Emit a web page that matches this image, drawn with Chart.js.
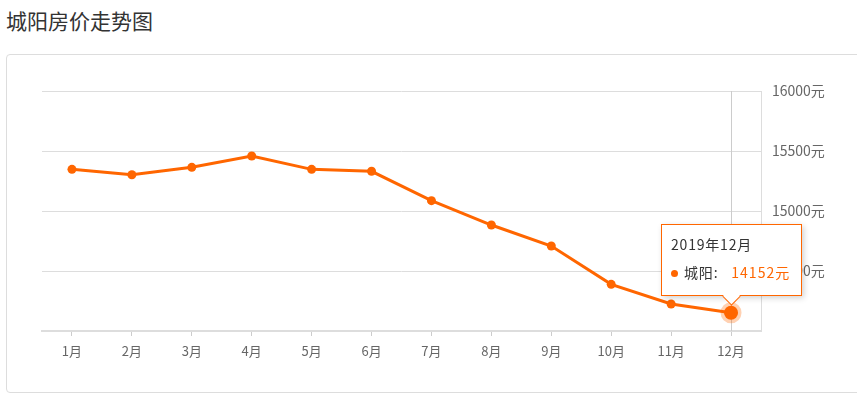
<!DOCTYPE html>
<html>
<head>
<meta charset="utf-8">
<script src="https://cdn.jsdelivr.net/npm/chart.js@4"></script>
<style>
  body { margin: 0; width: 857px; height: 398px; position: relative; overflow: hidden; background: #fff;
         font-family: "Noto Sans CJK SC", "Noto Sans", sans-serif; }
  .title { position: absolute; left: 6px; top: 5px; font-size: 21px; color: #333; line-height: 30px; }
  .card { position: absolute; left: 6px; top: 54px; width: 870px; height: 337px; border: 1px solid #ddd; border-radius: 4px; }
  #chart { position: absolute; left: 0; top: 0; }
  .tip { position: absolute; background: #fff; border: 1px solid #ff6600; width: 139px; height: 70px;
         box-shadow: 2px 2px 6px rgba(0,0,0,0.18); font-size: 14px; color: #333; display: none; letter-spacing: 0.8px; }
  .tip .t { position: absolute; left: 9px; top: 9px; line-height: 20px; }
  .tip .row { position: absolute; left: 9px; top: 37px; white-space: nowrap; line-height: 20px; }
  .tip .dot { display: inline-block; width: 7px; height: 7px; border-radius: 50%; background: #ff6600; margin-right: 6px; vertical-align: 1px; }
  .tip .v { color: #ff6600; margin-left: 13px; letter-spacing: 1px; }
  .tip .caret { position: absolute; left: 63px; bottom: -8px; width: 12px; height: 12px; background: #fff;
                border-right: 1px solid #ff6600; border-bottom: 1px solid #ff6600; transform: rotate(45deg); }
</style>
</head>
<body>
<div class="title">城阳房价走势图</div>
<div class="card"></div>
<canvas id="chart" width="857" height="398"></canvas>
<div class="tip" id="tip">
  <div class="t" id="tipTitle"></div>
  <div class="row"><span class="dot"></span><span id="tipName"></span><span class="v" id="tipVal"></span></div>
  <div class="caret"></div>
</div>
<script>
const months = ["1月", "2月", "3月", "4月", "5月", "6月", "7月", "8月", "9月", "10月", "11月", "12月"];
const prices = [15347, 15302, 15364, 15458, 15347, 15331, 15086, 14883, 14708, 14389, 14225, 14152];
const yTicks = [14000, 14500, 15000, 15500, 16000];
const seriesName = "城阳";
const year = "2019";
const orange = "#ff6600";

// vertical guide line under the hovered point
const crosshair = {
  id: "crosshair",
  beforeDatasetsDraw(chart) {
    const active = chart.getActiveElements();
    if (!active.length) return;
    const x = chart.scales.x.getPixelForValue(active[0].index);
    const { top, bottom } = chart.chartArea;
    const ctx = chart.ctx;
    ctx.save();
    ctx.strokeStyle = "#ccc";
    ctx.lineWidth = 1;
    ctx.beginPath();
    ctx.moveTo(Math.round(x) + 0.5, top);
    ctx.lineTo(Math.round(x) + 0.5, bottom);
    ctx.stroke();
    ctx.restore();
  }
};

function externalTip(context) {
  const tooltip = context.tooltip;
  const el = document.getElementById("tip");
  if (tooltip.opacity === 0) { el.style.display = "none"; return; }
  const i = tooltip.dataPoints[0].dataIndex;
  document.getElementById("tipTitle").textContent = year + "年" + months[i];
  document.getElementById("tipName").textContent = seriesName + ":";
  document.getElementById("tipVal").textContent = prices[i] + "元";
  el.style.display = "block";
  el.style.left = (tooltip.caretX - 70) + "px";
  el.style.top = (tooltip.caretY - 89) + "px";
}

const chart = new Chart(document.getElementById("chart"), {
  type: "line",
  data: {
    labels: months,
    datasets: [{
      label: seriesName,
      data: prices,
      borderColor: orange,
      backgroundColor: orange,
      borderWidth: 3,
      pointRadius: 4.5,
      pointBorderWidth: 0,
      pointBackgroundColor: orange,
      pointHoverRadius: 7,
      pointHoverBorderWidth: 7,
      pointHoverBackgroundColor: orange,
      pointHoverBorderColor: "rgba(255,102,0,0.3)",
      tension: 0
    }]
  },
  options: {
    responsive: false,
    animation: false,
    events: [],
    layout: { padding: { left: 42, top: 91, right: 0, bottom: 0 } },
    plugins: {
      legend: { display: false },
      tooltip: { enabled: false, external: externalTip }
    },
    scales: {
      x: {
        offset: true,
        afterFit(scale) { scale.height = 67; },
        grid: { drawOnChartArea: false, drawTicks: true, tickLength: 5, color: "#ccc", offset: false },
        border: { color: "#ddd", width: 2 },
        ticks: { color: "#666", padding: 7, font: { size: 13, family: "Noto Sans CJK SC" } }
      },
      y: {
        position: "right",
        min: 14000,
        max: 16000,
        afterFit(scale) { scale.width = 96; },
        afterBuildTicks(scale) { scale.ticks = yTicks.map(v => ({ value: v })); },
        grid: { color: "#ddd", drawTicks: false },
        border: { color: "#ddd", width: 1 },
        ticks: {
          color: "#666",
          padding: 11,
          font: { size: 14, family: "Noto Sans CJK SC" },
          callback: v => (v === 14000 ? "" : v + "元")
        }
      }
    }
  },
  plugins: [crosshair]
});

const last = prices.length - 1;
chart.setActiveElements([{ datasetIndex: 0, index: last }]);
chart.tooltip.setActiveElements([{ datasetIndex: 0, index: last }], { x: 0, y: 0 });
chart.update();
</script>
</body>
</html>
